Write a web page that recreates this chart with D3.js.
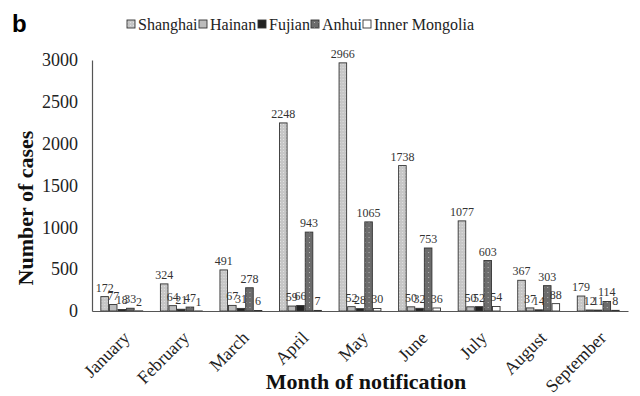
<!DOCTYPE html>
<html>
<head>
<meta charset="utf-8">
<script src="https://cdn.jsdelivr.net/npm/d3@7"></script>
<style>
  html, body { margin: 0; padding: 0; background: #fff; }
  svg { display: block; }
  .serif { font-family: "Liberation Serif", "Times New Roman", serif; }
</style>
</head>
<body>
<svg id="chart" width="640" height="396"></svg>
<script>
const months = ["January","February","March","April","May","June","July","August","September"];
const seriesNames = ["Shanghai","Hainan","Fujian","Anhui","Inner Mongolia"];
const shanghai = [172, 324, 491, 2248, 2966, 1738, 1077, 367, 179];
const hainan = [77, 64, 67, 59, 52, 50, 50, 37, 12];
const fujian = [18, 21, 31, 66, 28, 32, 52, 14, 11];
const anhui = [33, 47, 278, 943, 1065, 753, 603, 303, 114];
const innerMongolia = [2, 1, 6, 7, 30, 36, 54, 88, 8];
const yTicks = [0, 500, 1000, 1500, 2000, 2500, 3000];

const seriesValues = [shanghai, hainan, fujian, anhui, innerMongolia];
const fills = ["url(#patShanghai)", "#bcbcbc", "#222222", "url(#patAnhui)", "#ffffff"];
const SERIF = '"Liberation Serif", "Times New Roman", serif';

const svg = d3.select("#chart");
const plotBottom = 311, plotTop = 60;

const defs = svg.append("defs");
const p1 = defs.append("pattern").attr("id","patShanghai").attr("patternUnits","userSpaceOnUse").attr("width",3).attr("height",3);
p1.append("rect").attr("width",3).attr("height",3).attr("fill","#c6c6c6");
p1.append("rect").attr("x",1).attr("y",1).attr("width",1).attr("height",1).attr("fill","#e2e2e2");
const p2 = defs.append("pattern").attr("id","patAnhui").attr("patternUnits","userSpaceOnUse").attr("width",4).attr("height",5);
p2.append("rect").attr("width",4).attr("height",5).attr("fill","#6c6c6c");
p2.append("rect").attr("x",2).attr("y",2).attr("width",1).attr("height",1).attr("fill","#b8b8b8");

const x0 = d3.scaleBand().domain(months).range([92, 628]).paddingInner(0.28).paddingOuter(0.14);
const x1 = d3.scaleBand().domain(seriesNames).range([0, x0.bandwidth()]);
const y = d3.scaleLinear().domain([0, 3000]).range([plotBottom, plotTop]);

// Panel letter
svg.append("text").attr("x", 12).attr("y", 32)
  .style("font-family", "Liberation Sans, Arial, sans-serif").style("font-weight", "bold")
  .style("font-size", "24px").attr("fill", "#000").text("b");

// Y axis
const yAxis = d3.axisLeft(y).tickValues(yTicks).tickSize(0).tickPadding(14).tickFormat(d3.format("d"));
const gy = svg.append("g").attr("transform", `translate(92,0)`).call(yAxis)
  .attr("font-family", null).attr("font-size", null);
gy.select(".domain").attr("stroke", "#555").attr("stroke-width", 1.2);
gy.selectAll("text").style("font-family", SERIF)
  .style("font-size", "18px").attr("fill", "#222");

// Bars
const groups = svg.append("g").selectAll("g").data(months).join("g")
  .attr("transform", d => `translate(${x0(d)},0)`);

groups.each(function(m, mi) {
  const g = d3.select(this);
  seriesNames.forEach((s, si) => {
    const v = seriesValues[si][mi];
    g.append("rect")
      .attr("x", x1(s) + 0.5)
      .attr("y", y(v))
      .attr("width", x1.bandwidth() - 1)
      .attr("height", plotBottom - y(v))
      .attr("fill", fills[si])
      .attr("stroke", "#333").attr("stroke-width", 0.9);
    g.append("text")
      .attr("x", x1(s) + x1.bandwidth() / 2)
      .attr("y", y(v) - 5)
      .attr("text-anchor", "middle")
      .style("font-family", SERIF)
      .style("font-size", "12px").attr("fill", "#333")
      .text(v);
  });
});

// X axis
const xAxis = d3.axisBottom(x0).tickSize(0).tickPadding(0);
const gx = svg.append("g").attr("transform", `translate(0,${plotBottom})`).call(xAxis)
  .attr("font-family", null).attr("font-size", null);
gx.select(".domain").attr("stroke", "#555").attr("stroke-width", 1.2);
gx.selectAll("text")
  .style("font-family", SERIF)
  .style("font-size", "18px").attr("fill", "#222")
  .attr("text-anchor", "end")
  .attr("dy", null).attr("y", null)
  .attr("transform", "translate(9,28) rotate(-45)");

// Axis titles
svg.append("text").attr("x", 366).attr("y", 389).attr("text-anchor", "middle")
  .style("font-family", SERIF).style("font-weight", "bold")
  .style("font-size", "22px").attr("fill", "#111").text("Month of notification");
svg.append("text").attr("transform", "translate(33,208) rotate(-90)").attr("text-anchor", "middle")
  .style("font-family", SERIF).style("font-weight", "bold")
  .style("font-size", "22px").attr("fill", "#111").text("Number of cases");

// Legend
const legendX = [127, 199, 258, 311, 363];
const lg = svg.append("g");
seriesNames.forEach((s, i) => {
  lg.append("rect").attr("x", legendX[i]).attr("y", 20).attr("width", 8).attr("height", 8)
    .attr("fill", fills[i]).attr("stroke", "#333").attr("stroke-width", 0.9);
  lg.append("text").attr("x", legendX[i] + 11).attr("y", 29.5)
    .style("font-family", SERIF)
    .style("font-size", "16px").attr("fill", "#222").text(s);
});
</script>
</body>
</html>
